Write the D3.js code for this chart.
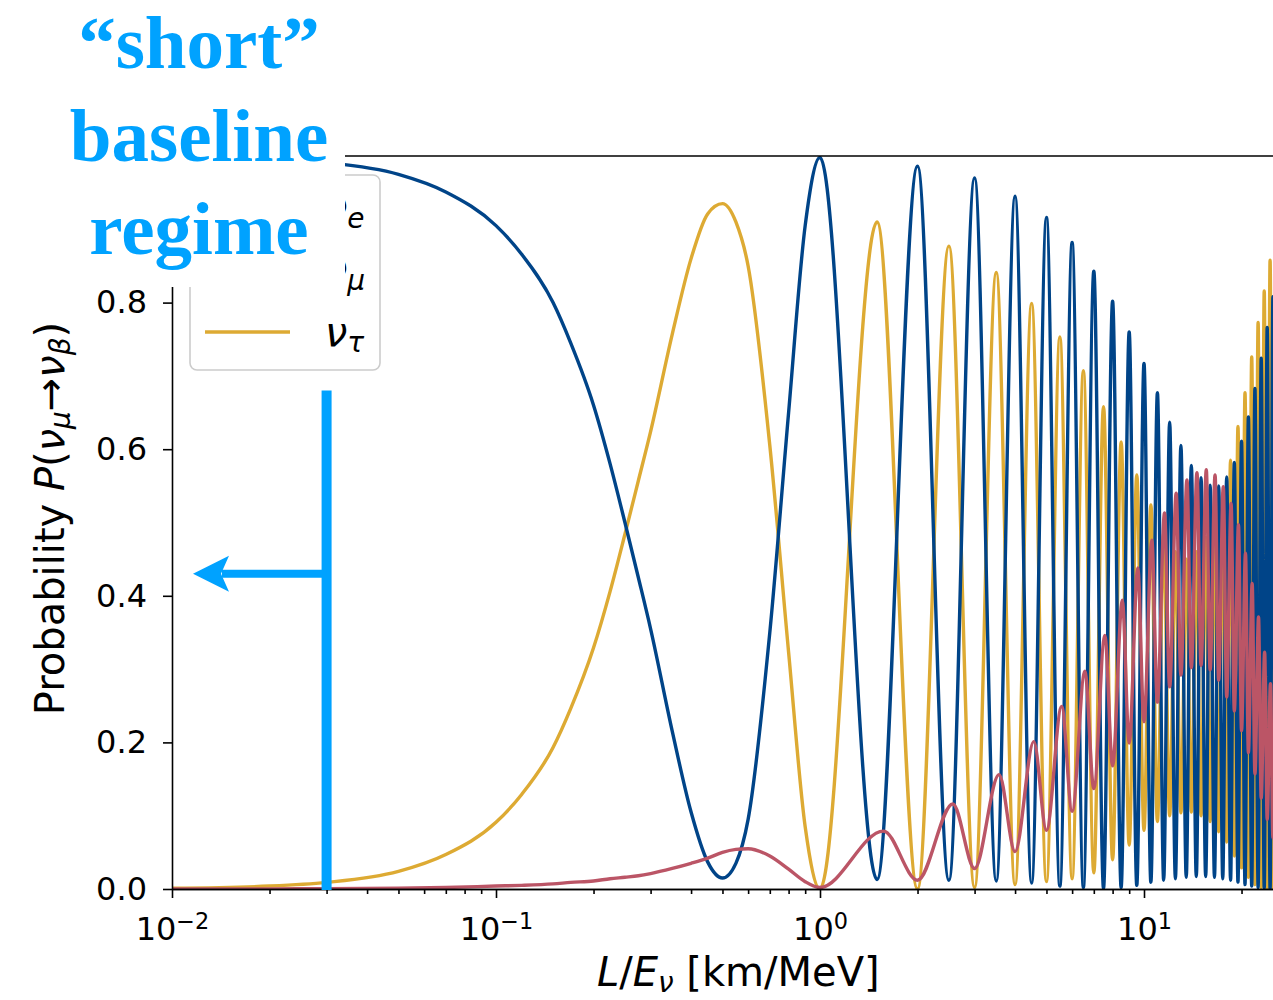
<!DOCTYPE html>
<html>
<head>
<meta charset="utf-8">
<script src="https://cdn.jsdelivr.net/npm/d3@7"></script>
<style>
  body { margin: 0; background: #fff; }
  svg { display: block; }
</style>
</head>
<body>
<div id="chart"></div>
<script>
// L/E [km/MeV] where the curves were read, below the first maximum
var leLow = [0.01, 0.02, 0.03, 0.05, 0.07, 0.1, 0.12, 0.15, 0.17, 0.2, 0.225, 0.25, 0.275, 0.3, 0.35, 0.4, 0.45, 0.5, 0.55, 0.6, 0.7, 0.8, 0.9];
// extrema of the fast oscillation (mu and tau)
var leOsc = [1, 1.5, 2, 2.5, 3, 3.5, 4, 4.5, 5, 5.5, 6, 6.5, 7, 7.5, 8, 8.5, 9, 9.5, 10, 10.5,
  11, 11.5, 12, 12.5, 13, 13.5, 14, 14.5, 15, 15.5, 16, 16.5, 17, 17.5, 18, 18.5, 19, 19.5, 20, 20.5,
  21, 21.5, 22, 22.5, 23, 23.5, 24, 24.5, 25, 25.5];
// extrema of the nu_e curve
var leOscE = [1, 1.57, 2, 2.57, 3, 3.57, 4, 4.57, 5, 5.57, 6, 6.57, 7, 7.57, 8, 8.57, 9, 9.57, 10, 10.57,
  11, 11.57, 12, 12.57, 13, 13.57, 14, 14.57, 15, 15.57, 16, 16.57, 17, 17.57, 18, 18.57, 19, 19.57, 20, 20.57,
  21, 21.57, 22, 22.57, 23, 23.57, 24, 24.57, 25, 25.57];

var probMuLow = [0.999, 0.996, 0.991, 0.975, 0.951, 0.905, 0.866, 0.80, 0.745, 0.66, 0.58, 0.50, 0.425, 0.355, 0.215, 0.105, 0.037, 0.015, 0.035, 0.095, 0.35, 0.65, 0.905];
var probMuOsc = [0.998, 0.013, 0.986, 0.012, 0.970, 0.011, 0.945, 0.008, 0.916, 0.004, 0.882, 0.002, 0.843, 0.001, 0.802, 0.002,
  0.760, 0.005, 0.717, 0.009, 0.677, 0.012, 0.637, 0.014, 0.605, 0.016, 0.578, 0.017, 0.561, 0.017, 0.551, 0.016,
  0.550, 0.014, 0.562, 0.012, 0.582, 0.009, 0.611, 0.006, 0.644, 0.004, 0.683, 0.002, 0.724, 0.001, 0.766, 0.0, 0.808, 0.0];

var probTauLow = [0.001, 0.004, 0.009, 0.024, 0.047, 0.091, 0.129, 0.193, 0.246, 0.329, 0.406, 0.484, 0.557, 0.624, 0.757, 0.86, 0.921, 0.935, 0.91, 0.85, 0.605, 0.323, 0.085];
var probTauOsc = [0.0, 0.910, 0.0, 0.877, 0.002, 0.841, 0.006, 0.799, 0.010, 0.753, 0.014, 0.707, 0.022, 0.658, 0.040, 0.610,
  0.060, 0.565, 0.080, 0.524, 0.092, 0.485, 0.100, 0.460, 0.104, 0.450, 0.105, 0.460, 0.100, 0.480, 0.092, 0.510,
  0.078, 0.540, 0.064, 0.585, 0.045, 0.631, 0.029, 0.677, 0.016, 0.726, 0.006, 0.773, 0.002, 0.816, 0.0, 0.858, 0.0, 0.89];

var probELow = [0.0, 0.0002, 0.0004, 0.001, 0.002, 0.004, 0.005, 0.007, 0.009, 0.011, 0.014, 0.016, 0.018, 0.021, 0.028, 0.035, 0.042, 0.050, 0.054, 0.055, 0.045, 0.027, 0.010];
var probEOsc = [0.002, 0.079, 0.012, 0.116, 0.028, 0.156, 0.051, 0.201, 0.080, 0.249, 0.106, 0.297, 0.137, 0.346, 0.168, 0.394,
  0.199, 0.438, 0.228, 0.476, 0.255, 0.513, 0.276, 0.540, 0.292, 0.558, 0.302, 0.568, 0.305, 0.572, 0.299, 0.565,
  0.285, 0.549, 0.262, 0.526, 0.243, 0.497, 0.216, 0.458, 0.186, 0.417, 0.157, 0.371, 0.124, 0.323, 0.095, 0.280, 0.070, 0.24];

var yTicks = [0, 0.2, 0.4, 0.6, 0.8, 1.0];
var xMajor = [0.01, 0.1, 1, 10];
var xExponents = ["\u22122", "\u22121", "0", "1"];
var annotLines = ["\u201Cshort\u201D", "baseline", "regime"];

var W = 1273, H = 1000;

var svg = d3.select("#chart").append("svg")
  .attr("width", W)
  .attr("height", H)
  .attr("font-family", "DejaVu Sans");

var x = d3.scaleLog()
  .domain([0.01, 30])
  .range([172, 172 + 324 * Math.log10(3000)]);

var y = d3.scaleLinear()
  .domain([0, 1])
  .range([889, 156]);

svg.append("clipPath").attr("id", "plotclip")
  .append("rect")
  .attr("x", x.range()[0]).attr("y", y(1))
  .attr("width", x.range()[1] - x.range()[0])
  .attr("height", y(0) - y(1));

var line = d3.line()
  .x(function (d) { return x(d[0]); })
  .y(function (d) { return y(d[1]); })
  .curve(d3.curveMonotoneX);

// drawing order: tau under mu, e on top
var series = [
  { key: "tau", color: "#DDAA33", pts: d3.zip(leLow.concat(leOsc), probTauLow.concat(probTauOsc)) },
  { key: "mu", color: "#004488", pts: d3.zip(leLow.concat(leOsc), probMuLow.concat(probMuOsc)) },
  { key: "e", color: "#BB5566", pts: d3.zip(leLow.concat(leOscE), probELow.concat(probEOsc)) }
];

svg.append("g")
  .attr("clip-path", "url(#plotclip)")
  .selectAll("path")
  .data(series)
  .enter().append("path")
  .attr("fill", "none")
  .attr("stroke", function (d) { return d.color; })
  .attr("stroke-width", 3.4)
  .attr("stroke-linejoin", "round")
  .attr("d", function (d) { return line(d.pts); });

// axes
var minor = x.ticks().filter(function (d) {
  var l = Math.log10(d);
  return Math.abs(l - Math.round(l)) > 1e-6;
});

svg.append("g")
  .attr("class", "axis")
  .attr("transform", "translate(0," + y(0) + ")")
  .call(d3.axisBottom(x).tickValues(minor).tickSize(5).tickSizeOuter(0).tickFormat(function () { return ""; }));

var gx = svg.append("g")
  .attr("class", "axis")
  .attr("transform", "translate(0," + y(0) + ")")
  .call(d3.axisBottom(x).tickValues(xMajor).tickSize(9).tickSizeOuter(0).tickPadding(19)
    .tickFormat(function () { return ""; }));

gx.selectAll(".tick text").each(function (d, i) {
  var t = d3.select(this);
  t.append("tspan").text("10");
  t.append("tspan").attr("dy", "-0.5em").attr("font-size", "0.7em").text(xExponents[i]);
});

// the 1.0 label sits under the annotation box, so it is left blank
var gy = svg.append("g")
  .attr("class", "axis")
  .attr("transform", "translate(" + x.range()[0] + ",0)")
  .call(d3.axisLeft(y).tickValues(yTicks).tickSize(9).tickSizeOuter(0).tickPadding(16)
    .tickFormat(function (d) { return d < 1 ? d3.format(".1f")(d) : ""; }));

svg.selectAll(".axis text")
  .attr("font-size", "32px")
  .attr("font-family", "DejaVu Sans")
  .attr("fill", "#000");
svg.selectAll(".axis line").attr("stroke", "#000").attr("stroke-width", 1.6);
svg.selectAll(".axis .domain").attr("stroke", "#000").attr("stroke-width", 1.6);

// top and right spines
svg.append("line")
  .attr("x1", x.range()[0]).attr("x2", x.range()[1])
  .attr("y1", y(1)).attr("y2", y(1))
  .attr("stroke", "#000").attr("stroke-width", 1.6);
svg.append("line")
  .attr("x1", x.range()[1]).attr("x2", x.range()[1])
  .attr("y1", y(1)).attr("y2", y(0))
  .attr("stroke", "#000").attr("stroke-width", 1.6);

// axis labels
var xl = svg.append("text")
  .attr("x", (x.range()[0] + x.range()[1]) / 2 + 3)
  .attr("y", 986)
  .attr("text-anchor", "middle")
  .attr("font-size", "40px");
xl.append("tspan").attr("font-style", "italic").text("L");
xl.append("tspan").text("/");
xl.append("tspan").attr("font-style", "italic").text("E");
xl.append("tspan").attr("font-style", "italic").attr("font-size", "0.7em").attr("dy", "0.2em").text("\u03BD");
xl.append("tspan").attr("dy", "-0.14em").text(" [km/MeV]");

var yl = svg.append("text")
  .attr("transform", "translate(64," + ((y(0) + y(1)) / 2 - 4) + ") rotate(-90)")
  .attr("text-anchor", "middle")
  .attr("font-size", "40px");
yl.append("tspan").text("Probability ");
yl.append("tspan").attr("font-style", "italic").text("P");
yl.append("tspan").text("(");
yl.append("tspan").attr("font-style", "italic").text("\u03BD");
yl.append("tspan").attr("font-style", "italic").attr("font-size", "0.7em").attr("dy", "0.22em").text("\u03BC");
yl.append("tspan").attr("dy", "-0.154em").text("\u2192");
yl.append("tspan").attr("font-style", "italic").text("\u03BD");
yl.append("tspan").attr("font-style", "italic").attr("font-size", "0.7em").attr("dy", "0.22em").text("\u03B2");
yl.append("tspan").attr("dy", "-0.154em").text(")");

// legend
var legendItems = [
  { sub: "e", color: "#BB5566" },
  { sub: "\u03BC", color: "#004488" },
  { sub: "\u03C4", color: "#DDAA33" }
];
var lg = svg.append("g");
lg.append("rect")
  .attr("x", 190).attr("y", 175)
  .attr("width", 190).attr("height", 195)
  .attr("rx", 7)
  .attr("fill", "#fff").attr("fill-opacity", 0.8)
  .attr("stroke", "#cccccc").attr("stroke-width", 1.6);
var rows = lg.selectAll("g.row")
  .data(legendItems)
  .enter().append("g")
  .attr("transform", function (d, i) { return "translate(0," + (208 + i * 62) + ")"; });
rows.append("line")
  .attr("x1", 205).attr("x2", 290)
  .attr("stroke", function (d) { return d.color; })
  .attr("stroke-width", 3.4);
var lt = rows.append("text")
  .attr("x", 325).attr("y", 14)
  .attr("font-size", "40px");
lt.append("tspan").attr("font-style", "italic").text("\u03BD");
lt.append("tspan").attr("font-style", "italic").attr("font-size", "0.7em").attr("dy", "0.22em")
  .text(function (d) { return d.sub; });

// "short" baseline annotation
var annotColor = "#00A2FF";
svg.append("rect")
  .attr("x", 0).attr("y", 0)
  .attr("width", 345).attr("height", 287)
  .attr("fill", "#fff");

svg.selectAll("text.annot")
  .data(annotLines)
  .enter().append("text")
  .attr("class", "annot")
  .attr("x", 199)
  .attr("y", function (d, i) { return 68 + i * 93; })
  .attr("text-anchor", "middle")
  .attr("font-family", "Liberation Serif")
  .attr("font-weight", "bold")
  .attr("font-size", "75px")
  .attr("fill", annotColor)
  .text(function (d) { return d; });

var barX = x(0.03);
svg.append("line")
  .attr("x1", barX).attr("x2", barX)
  .attr("y1", y(0.68)).attr("y2", y(0) + 1)
  .attr("stroke", annotColor).attr("stroke-width", 10);

var arrowY = y(0.43);
svg.append("line")
  .attr("x1", barX).attr("x2", 222)
  .attr("y1", arrowY).attr("y2", arrowY)
  .attr("stroke", annotColor).attr("stroke-width", 8);
svg.append("path")
  .attr("d", "M193," + arrowY + " L229," + (arrowY - 18) + " L221," + arrowY + " L229," + (arrowY + 18) + " Z")
  .attr("fill", annotColor);
</script>
</body>
</html>
